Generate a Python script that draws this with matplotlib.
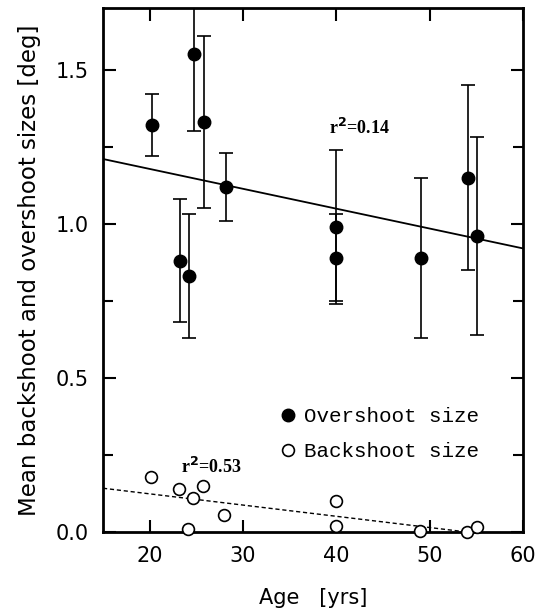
import numpy as np
import matplotlib.pyplot as plt
from matplotlib.ticker import MultipleLocator
from matplotlib.lines import Line2D

# overshoot: age, mean, lower / upper ends of error bar
over_age = [20.2, 23.2, 24.2, 24.7, 25.8, 28.2, 40.0, 40.0, 49.1, 54.1, 55.1]
over_val = [1.32, 0.88, 0.83, 1.55, 1.33, 1.12, 0.99, 0.89, 0.89, 1.15, 0.96]
over_lo = [1.22, 0.68, 0.63, 1.30, 1.05, 1.01, 0.74, 0.75, 0.63, 0.85, 0.64]
over_hi = [1.42, 1.08, 1.03, 1.80, 1.61, 1.23, 1.24, 1.03, 1.15, 1.45, 1.28]

# backshoot
back_age = [20.1, 23.1, 24.6, 25.7, 24.1, 28.0, 40.0, 40.0, 49.0, 54.0, 55.1]
back_val = [0.18, 0.14, 0.11, 0.15, 0.01, 0.055, 0.10, 0.02, 0.003, 0.0, 0.017]

# regression lines (end points)
over_fit_x = [15, 60]
over_fit_y = [1.21, 0.92]
back_fit_x = [15, 54]
back_fit_y = [0.142, 0.0]

fig = plt.figure(figsize=(5.38, 6.12), dpi=100)
ax = fig.add_axes([0.1915, 0.1307, 0.7805, 0.8563])

yerr = [np.array(over_val) - np.array(over_lo), np.array(over_hi) - np.array(over_val)]
ax.errorbar(over_age, over_val, yerr=yerr, fmt='o', color='black', ms=9,
            elinewidth=1.2, capsize=5, capthick=1.2)
ax.plot(back_age, back_val, 'o', mfc='white', mec='black', ms=8.5, mew=1.2,
        clip_on=False, zorder=5)
ax.plot(over_fit_x, over_fit_y, '-', color='black', lw=1.3)
ax.plot(back_fit_x, back_fit_y, '--', color='black', lw=1.0, dashes=(3, 2))

ax.text(39.2, 1.29, r'r$^{\mathbf{2}}$=0.14', fontsize=13, fontweight='bold',
        family='Liberation Serif')
ax.text(23.4, 0.19, r'r$^{\mathbf{2}}$=0.53', fontsize=13, fontweight='bold',
        family='Liberation Serif')

ax.set_xlim(15, 60)
ax.set_ylim(0, 1.7)
ax.xaxis.set_major_locator(MultipleLocator(10))
ax.yaxis.set_minor_locator(MultipleLocator(0.25))
ax.set_yticks([0.0, 0.5, 1.0, 1.5])
ax.set_yticklabels(['0.0', '0.5', '1.0', '1.5'])
ax.tick_params(which='both', direction='in', top=True, right=True, width=1.5)
ax.tick_params(which='major', length=9, labelsize=15, pad=10)
ax.tick_params(which='minor', length=7)
for s in ax.spines.values():
    s.set_linewidth(2)

ax.set_xlabel('Age   [yrs]', fontsize=15, labelpad=16)
ax.set_ylabel('Mean backshoot and overshoot sizes [deg]', fontsize=16.5, labelpad=11)

handles = [Line2D([], [], ls='none', marker='o', color='black', ms=9),
           Line2D([], [], ls='none', marker='o', mfc='white', mec='black', ms=8.5, mew=1.2)]
ax.legend(handles, ['Overshoot size', 'Backshoot size'], loc='center left',
          bbox_to_anchor=(0.37, 0.187), frameon=False,
          prop={'family': 'Liberation Mono', 'size': 15}, handletextpad=0.3,
          labelspacing=0.75, handlelength=1.0)

fig.savefig('out.png', dpi=100)
